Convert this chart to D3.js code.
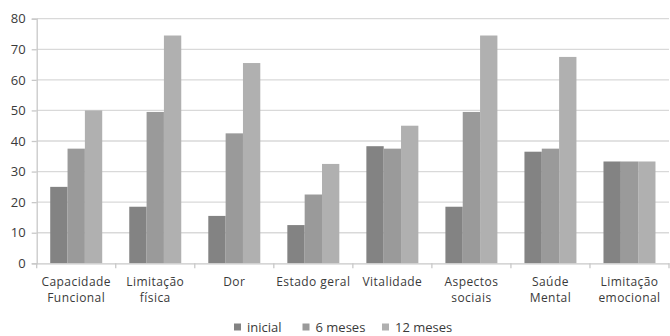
<!DOCTYPE html>
<html>
<head>
<meta charset="utf-8">
<script src="https://cdn.jsdelivr.net/npm/d3@7"></script>
<style>
  html, body { margin: 0; padding: 0; background: #fff; }
  svg { display: block; }
  text { font-family: "Open Sans", sans-serif; fill: #3a3a3a; }
</style>
</head>
<body>
<svg id="chart" width="670" height="336"></svg>
<script>
const categories = [
  ["Capacidade", "Funcional"],
  ["Limitação", "física"],
  ["Dor"],
  ["Estado geral"],
  ["Vitalidade"],
  ["Aspectos", "sociais"],
  ["Saúde", "Mental"],
  ["Limitação", "emocional"]
];
const seriesNames = ["inicial", "6 meses", "12 meses"];
const inicial = [25, 18.5, 15.5, 12.5, 38.3, 18.5, 36.5, 33.3];
const meses6  = [37.5, 49.5, 42.5, 22.5, 37.5, 49.5, 37.5, 33.3];
const meses12 = [50, 74.5, 65.5, 32.5, 45, 74.5, 67.5, 33.3];
const yTicks = [0, 10, 20, 30, 40, 50, 60, 70, 80];
const colors = ["#838383", "#9a9a9a", "#b0b0b0"];

const seriesValues = [inicial, meses6, meses12];
const svg = d3.select("#chart");

const pL = 36.7, pR = 669, pT = 18.7, pB = 263.3;
const catKeys = categories.map((c, i) => i);

const x0 = d3.scaleBand().domain(catKeys).range([pL, pR]).padding(0);
const x1 = d3.scaleBand().domain(d3.range(3)).range([0, x0.bandwidth()])
  .paddingInner(0).paddingOuter(0.78);
const y = d3.scaleLinear().domain([0, 80]).range([pB, pT]);

// gridlines
svg.append("g").selectAll("line").data(yTicks.filter(t => t > 0)).join("line")
  .attr("x1", pL).attr("x2", pR)
  .attr("y1", d => y(d)).attr("y2", d => y(d))
  .attr("stroke", "#d9d9d9").attr("stroke-width", 1.3);

// y axis
const yAxis = d3.axisLeft(y).tickValues(yTicks).tickSize(5).tickPadding(6);
const gy = svg.append("g").attr("transform", `translate(${pL},0)`).call(yAxis);
gy.select(".domain").attr("stroke", "#c8c8c8").attr("stroke-width", 1.3);
gy.selectAll(".tick line").attr("stroke", "#c8c8c8").attr("stroke-width", 1.3);
gy.selectAll(".tick text").attr("font-size", 13).attr("fill", "#3a3a3a")
  .style("font-family", "'Open Sans', sans-serif");

// bars
const groups = svg.append("g").selectAll("g").data(catKeys).join("g")
  .attr("transform", d => `translate(${x0(d)},0)`);
groups.selectAll("rect").data(ci => seriesValues.map((s, si) => ({si, v: s[ci]}))).join("rect")
  .attr("x", d => x1(d.si))
  .attr("width", x1.bandwidth())
  .attr("y", d => y(d.v))
  .attr("height", d => y(0) - y(d.v))
  .attr("fill", d => colors[d.si]);

// x axis
const xAxis = d3.axisBottom(x0).tickSize(0).tickFormat(() => "");
const gx = svg.append("g").attr("transform", `translate(0,${pB})`).call(xAxis);
gx.select(".domain").attr("stroke", "#c8c8c8").attr("stroke-width", 1.3);
// boundary ticks
const bounds = catKeys.map(k => x0(k)).concat([pR]);
svg.append("g").selectAll("line").data(bounds).join("line")
  .attr("x1", d => d).attr("x2", d => d)
  .attr("y1", pB).attr("y2", pB + 5)
  .attr("stroke", "#c8c8c8").attr("stroke-width", 1.3);

// category labels (one text element per line)
const labelLines = [];
catKeys.forEach(k => categories[k].forEach((t, li) => labelLines.push({k, li, t})));
svg.append("g").selectAll("text").data(labelLines).join("text")
  .attr("x", d => x0(d.k) + x0.bandwidth() / 2)
  .attr("y", d => 285.5 + d.li * 16.6)
  .attr("text-anchor", "middle")
  .attr("font-size", 12)
  .attr("letter-spacing", 0.45)
  .text(d => d.t);

// legend
const legendX = [234, 302.5, 382];
const leg = svg.append("g").selectAll("g").data(seriesNames).join("g")
  .attr("transform", (d, i) => `translate(${legendX[i]},327)`);
leg.append("rect").attr("x", 0).attr("y", -3.5).attr("width", 7).attr("height", 7)
  .attr("fill", (d, i) => colors[i]);
leg.append("text").attr("x", 13).attr("y", 4.5).attr("font-size", 13).text(d => d);
</script>
</body>
</html>
